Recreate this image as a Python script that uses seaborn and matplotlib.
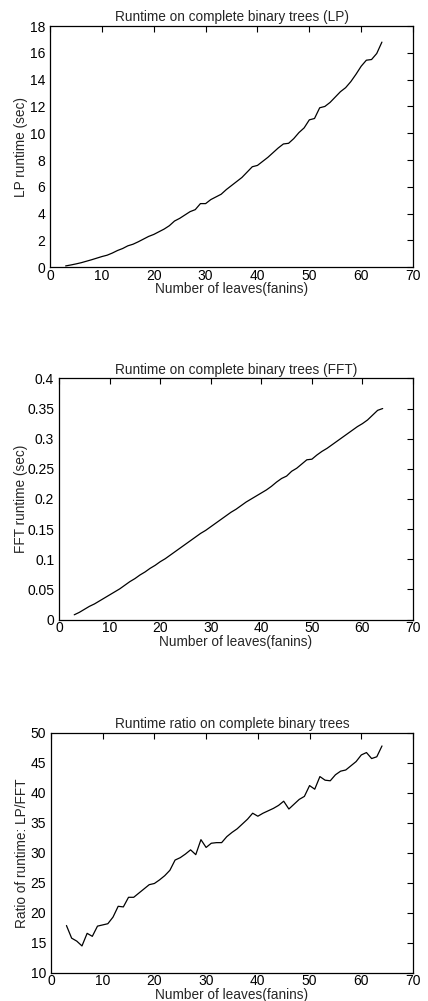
import matplotlib
matplotlib.use("Agg")
import matplotlib.pyplot as plt
from matplotlib.ticker import FuncFormatter
import pandas as pd
import seaborn as sns

# number of leaves (fanins)
leaves = list(range(3, 65))

lp_runtime = [0.10, 0.17, 0.25, 0.34, 0.45, 0.56, 0.68, 0.80, 0.90, 1.06,
              1.25, 1.40, 1.60, 1.72, 1.90, 2.10, 2.30, 2.45, 2.65, 2.85,
              3.10, 3.45, 3.65, 3.90, 4.15, 4.30, 4.75, 4.75, 5.05, 5.25,
              5.45, 5.80, 6.10, 6.40, 6.70, 7.10, 7.50, 7.60, 7.90, 8.20,
              8.55, 8.90, 9.20, 9.25, 9.60, 10.05, 10.40, 11.00, 11.10, 11.90,
              12.00, 12.30, 12.70, 13.10, 13.40, 13.85, 14.40, 15.00, 15.45, 15.50,
              15.95, 16.80]

fft_runtime = [0.008, 0.012, 0.017, 0.022, 0.026, 0.031, 0.036, 0.041, 0.046, 0.051,
               0.057, 0.063, 0.068, 0.074, 0.079, 0.085, 0.090, 0.096, 0.101, 0.107,
               0.113, 0.119, 0.125, 0.131, 0.137, 0.143, 0.148, 0.154, 0.160, 0.166,
               0.172, 0.178, 0.183, 0.189, 0.195, 0.200, 0.205, 0.210, 0.215, 0.221,
               0.228, 0.234, 0.238, 0.246, 0.251, 0.258, 0.265, 0.266, 0.273, 0.279,
               0.284, 0.290, 0.296, 0.302, 0.308, 0.314, 0.320, 0.325, 0.331, 0.339,
               0.347, 0.350]

runtime_ratio = [17.9, 15.8, 15.3, 14.5, 16.6, 16.1, 17.8, 18.0, 18.2, 19.3,
                 21.1, 21.0, 22.6, 22.6, 23.3, 24.0, 24.7, 24.9, 25.5, 26.2,
                 27.1, 28.8, 29.2, 29.8, 30.5, 29.7, 32.2, 30.9, 31.6, 31.7,
                 31.7, 32.7, 33.4, 34.0, 34.8, 35.6, 36.6, 36.1, 36.6, 37.0,
                 37.4, 37.9, 38.6, 37.3, 38.1, 38.9, 39.4, 41.2, 40.6, 42.7,
                 42.1, 42.0, 43.0, 43.6, 43.8, 44.5, 45.2, 46.3, 46.7, 45.7,
                 46.0, 47.8]

df = pd.DataFrame({'leaves': leaves, 'lp': lp_runtime,
                   'fft': fft_runtime, 'ratio': runtime_ratio})

sns.set_style('white')
plt.rcParams['font.family'] = ['Liberation Sans', 'DejaVu Sans']

fig = plt.figure(figsize=(4.28, 10.01), dpi=100)

# (column, title, ylabel, ylim, yticks, axes rect, ylabel x in axes coords)
panels = [
    ('lp', 'Runtime on complete binary trees (LP)', 'LP runtime (sec)',
     (0, 18), list(range(0, 19, 2)), [0.117, 0.733, 0.848, 0.241], -0.06),
    ('fft', 'Runtime on complete binary trees (FFT)', 'FFT runtime (sec)',
     (0, 0.4), [i * 0.05 for i in range(9)], [0.138, 0.381, 0.827, 0.241], -0.088),
    ('ratio', 'Runtime ratio on complete binary trees', 'Ratio of runtime: LP/FFT',
     (10, 50), list(range(10, 51, 5)), [0.119, 0.028, 0.846, 0.240], -0.06),
]

for col, title, ylabel, ylim, yticks, rect, ylx in panels:
    ax = fig.add_axes(rect)
    sns.lineplot(data=df, x='leaves', y=col, ax=ax, color='black', linewidth=0.9)
    ax.set_xlim(0, 70)
    ax.set_ylim(*ylim)
    ax.set_xticks(range(0, 71, 10))
    ax.set_yticks(yticks)
    ax.yaxis.set_major_formatter(FuncFormatter(lambda v, p: '%g' % round(v, 4)))
    ax.tick_params(direction='in', length=4, width=0.8, top=True, right=True,
                   labelsize=10, colors='black')
    ax.tick_params(axis='x', pad=1)
    ax.tick_params(axis='y', pad=3.5)
    for s in ax.spines.values():
        s.set_linewidth(0.9)
        s.set_color('black')
    ax.set_title(title, fontsize=9.8, pad=3.5)
    ax.set_xlabel('Number of leaves(fanins)', fontsize=9.8)
    ax.set_ylabel(ylabel, fontsize=9.8)
    ax.xaxis.set_label_coords(0.5, -0.063)
    ax.yaxis.set_label_coords(ylx, 0.5)

fig.savefig('out.png', dpi=100)
